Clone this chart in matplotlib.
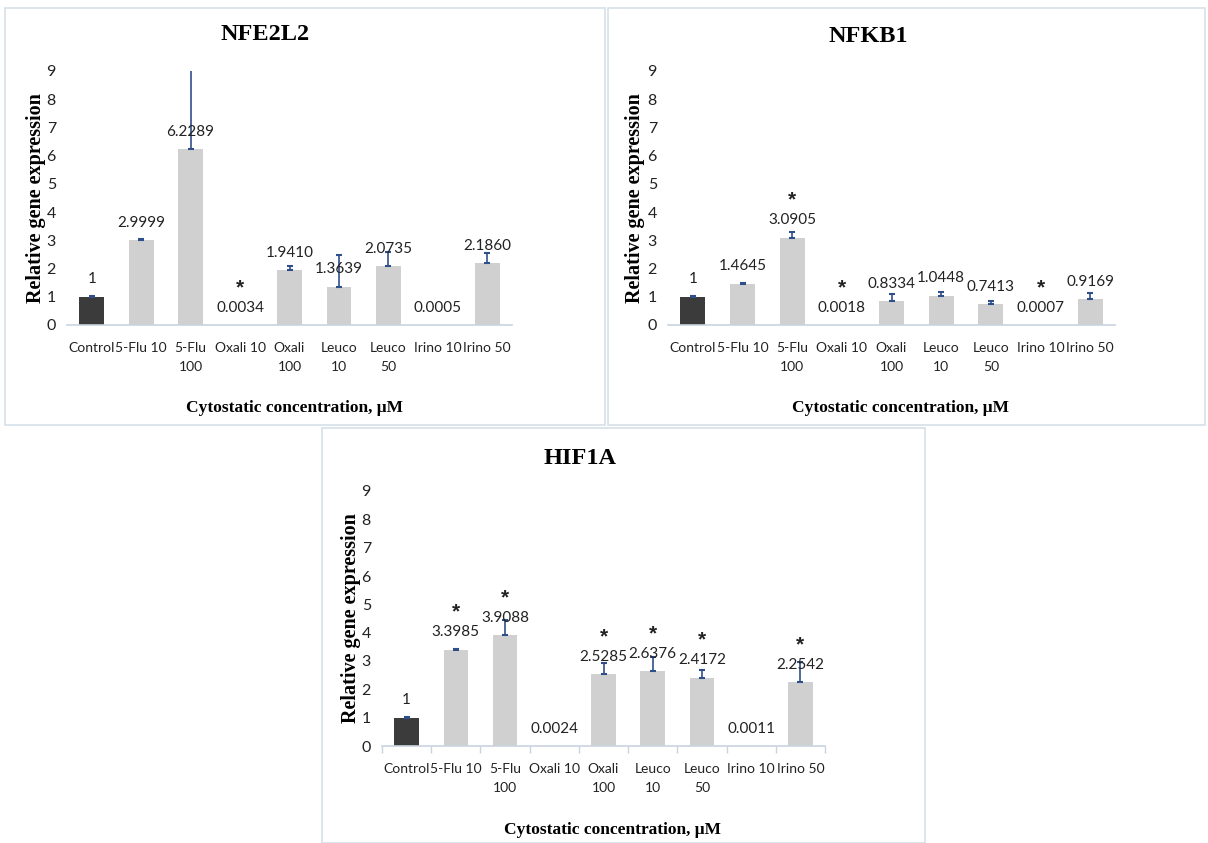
import matplotlib
matplotlib.use('Agg')
import matplotlib.pyplot as plt
from matplotlib.patches import Rectangle

## dados ##
categorias = ["Control", "5-Flu 10", "5-Flu\n100", "Oxali 10", "Oxali\n100",
              "Leuco\n10", "Leuco\n50", "Irino 10", "Irino 50"]

nfe2l2 = [1, 2.9999, 6.2289, 0.0034, 1.9410, 1.3639, 2.0735, 0.0005, 2.1860]
nfe2l2_err = [0.02, 0.03, 2.9, 0, 0.15, 1.1, 0.5, 0, 0.35]
nfe2l2_lab = ["1", "2.9999", "6.2289", "0.0034", "1.9410", "1.3639", "2.0735", "0.0005", "2.1860"]
nfe2l2_sig = [False, False, False, True, False, False, False, False, False]

nfkb1 = [1, 1.4645, 3.0905, 0.0018, 0.8334, 1.0448, 0.7413, 0.0007, 0.9169]
nfkb1_err = [0.02, 0.03, 0.2, 0, 0.25, 0.13, 0.12, 0, 0.2]
nfkb1_lab = ["1", "1.4645", "3.0905", "0.0018", "0.8334", "1.0448", "0.7413", "0.0007", "0.9169"]
nfkb1_sig = [False, False, True, True, False, False, False, True, False]

hif1a = [1, 3.3985, 3.9088, 0.0024, 2.5285, 2.6376, 2.4172, 0.0011, 2.2542]
hif1a_err = [0.02, 0.03, 0.55, 0, 0.4, 0.5, 0.25, 0, 0.7]
hif1a_lab = ["1", "3.3985", "3.9088", "0.0024", "2.5285", "2.6376", "2.4172", "0.0011", "2.2542"]
hif1a_sig = [False, True, True, False, True, True, True, False, True]

W, H = 1208, 843
fig = plt.figure(figsize=(W / 100, H / 100), dpi=100)

def fx(px):
    return px / W

def fy(py):
    return 1 - py / H

## molduras dos painéis ##
for (x0, y0, x1, y1) in [(5, 8, 605, 425), (608, 8, 1205, 425), (322, 428, 925, 843)]:
    fig.add_artist(Rectangle((fx(x0), fy(y1)), fx(x1 - x0), (y1 - y0) / H,
                             transform=fig.transFigure, fill=False,
                             edgecolor="#d6dfe9", linewidth=1.2))

def painel(box, valores, erros, rotulos, sig, titulo, title_xy, xlab_xy, ylab_x, divisores=False):
    x0, x1, ytop, ybot = box
    ax = fig.add_axes([fx(x0), fy(ybot), fx(x1 - x0), (ybot - ytop) / H])
    n = len(valores)
    pos = list(range(n))
    cores = ["#3b3b3b"] + ["#d0d0d0"] * (n - 1)
    ax.bar(pos, valores, width=0.5, color=cores, zorder=2)
    ## só desenha barra de erro onde existe erro ##
    com_erro = [i for i in pos if erros[i] > 0]
    ax.errorbar([pos[i] for i in com_erro], [valores[i] for i in com_erro],
                yerr=[[0] * len(com_erro), [erros[i] for i in com_erro]], fmt="none",
                ecolor="#2f4f8a", elinewidth=1.2, capsize=2.5, capthick=1.5, zorder=3)
    for i in range(n):
        ax.annotate(rotulos[i], (pos[i], valores[i]), xytext=(0, 12.5), textcoords="offset points",
                    ha="center", va="center", fontsize=11, family="Lato", color="#222222")
        if sig[i]:
            ax.annotate("*", (pos[i], valores[i]), xytext=(0, 27), textcoords="offset points",
                        ha="center", va="center", fontsize=15, fontweight="bold",
                        family="Liberation Sans", color="#222222")
    ax.set_ylim(0, 9)
    ax.set_xlim(-0.5, n - 0.5)
    ax.set_yticks(range(10))
    ax.set_xticks(pos)
    ax.set_xticklabels(categorias, fontsize=10, family="Lato", linespacing=1.75)
    for lbl in ax.get_yticklabels():
        lbl.set_fontsize(11.5)
        lbl.set_family("Lato")
    ax.tick_params(axis="both", length=0, pad=8, colors="#222222")
    ax.tick_params(axis="x", pad=12)
    if divisores:
        ax.set_xticks([p + 0.5 for p in [-1] + pos], minor=True)
        ax.tick_params(axis="x", which="minor", length=5, color="#c8d3e0", width=1)
    for s in ["top", "right", "left"]:
        ax.spines[s].set_visible(False)
    ax.spines["bottom"].set_color("#c8d3e0")
    ax.spines["bottom"].set_linewidth(1.2)
    ax.set_facecolor("none")
    fig.text(fx(title_xy[0]), fy(title_xy[1]), titulo, ha="center", va="center",
             fontsize=17.5, fontweight="bold", family="Liberation Serif")
    fig.text(fx(xlab_xy[0]), fy(xlab_xy[1]), "Cytostatic concentration, μM", ha="center", va="center",
             fontsize=12.5, fontweight="bold", family="Liberation Serif")
    fig.text(fx(ylab_x), fy((ytop + ybot) / 2), "Relative gene expression", ha="center", va="center",
             rotation=90, fontsize=14.5, fontweight="bold", family="Liberation Serif")
    return ax

painel((67, 512, 71, 325), nfe2l2, nfe2l2_err, nfe2l2_lab, nfe2l2_sig, "NFE2L2",
       (265, 35), (295, 408), 36)
painel((668, 1115, 71, 325), nfkb1, nfkb1_err, nfkb1_lab, nfkb1_sig, "NFKB1",
       (868, 36), (900, 408), 635)
painel((382, 825, 491, 746), hif1a, hif1a_err, hif1a_lab, hif1a_sig, "HIF1A",
       (580, 458), (612, 830), 351, divisores=True)

plt.savefig("out.png", dpi=100)
